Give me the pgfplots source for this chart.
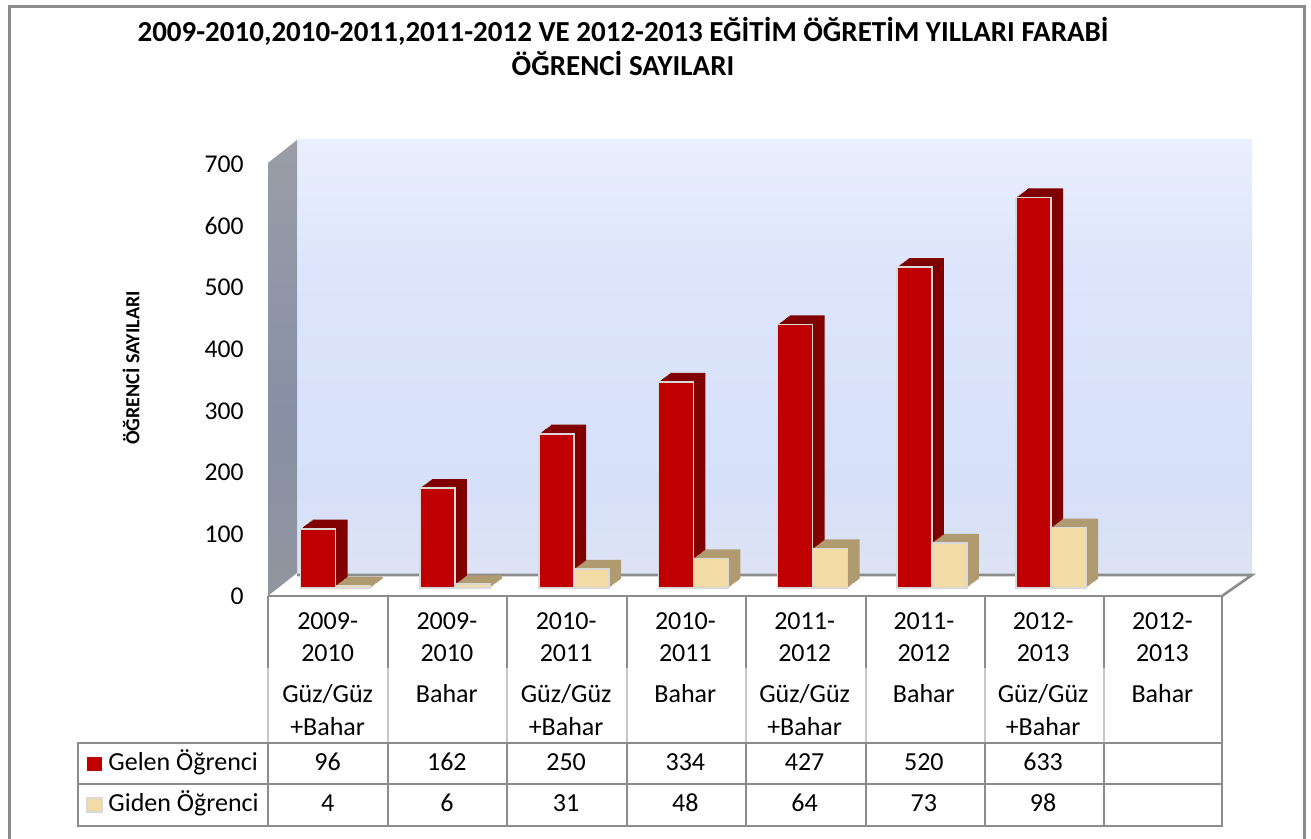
\documentclass[border=0pt]{standalone}
\usepackage{pgfplots}
\usepackage{pgfplotstable}
\pgfplotsset{compat=1.18}
\usepackage{fontspec}
\setmainfont{Carlito}

\definecolor{gelen}{HTML}{C00000}
\definecolor{gelenside}{HTML}{800000}
\definecolor{giden}{HTML}{F3DBA6}
\definecolor{gidenside}{HTML}{B09A70}
\definecolor{tgray}{HTML}{8C8C8C}
\definecolor{tlight}{HTML}{C8C8C8}
\definecolor{bwA}{HTML}{EEEEE6}
\definecolor{bwB}{HTML}{E4E6EE}
\definecolor{bwC}{HTML}{D6E0F9}
\definecolor{bwD}{HTML}{DCE5FB}
\definecolor{lwA}{HTML}{9C9C94}
\definecolor{lwB}{HTML}{8890A6}
\definecolor{lwC}{HTML}{A9A9A9}

\pgfdeclareverticalshading{backwall}{100bp}{color(0bp)=(bwA); color(6bp)=(bwA); color(16bp)=(bwB); color(35bp)=(bwC); color(60bp)=(bwD); color(100bp)=(white)}
\pgfdeclareverticalshading{leftwall}{100bp}{color(0bp)=(lwA); color(45bp)=(lwB); color(100bp)=(lwC)}

\pgfplotstableread{
x gelen giden
0 96 4
1 162 6
2 250 31
3 334 48
4 427 64
5 520 73
6 633 98
}\datatable

\newcommand\tfont{\fontsize{13}{15}\selectfont}

\begin{document}
\begin{tikzpicture}
\begin{scope}[x=0.5pt,y=-0.5pt,yshift=419.5pt]
  \path[use as bounding box] (0,0) rectangle (1311,839);
  \shade[shading=backwall] (297,140) rectangle (1252,575);
  \shade[shading=leftwall] (268,163) -- (297,140) -- (297,573) -- (268,596) -- cycle;
  \fill[white] (268,596) -- (297,575) -- (1252,575) -- (1222,596) -- cycle;
  \draw[tgray, line width=1.3pt] (297,575) -- (1252,575) -- (1222,596);
  \draw[tgray, line width=1.5pt] (9,850) -- (9,7) -- (1304,7) -- (1304,850);
  % titles
  \node[anchor=base, font=\bfseries\fontsize{14.5}{16}\selectfont] at (623,42) {2009-2010,2010-2011,2011-2012 VE 2012-2013 EĞİTİM ÖĞRETİM YILLARI FARABİ};
  \node[anchor=base, font=\bfseries\fontsize{14.5}{16}\selectfont] at (623,76) {ÖĞRENCİ SAYILARI};
  \node[rotate=90, font=\bfseries\fontsize{10}{12}\selectfont] at (131,368) {ÖĞRENCİ SAYILARI};
\end{scope}

\begin{axis}[
  at={(138pt,125.5pt)}, anchor=south west,
  scale only axis, width=477pt, height=216pt,
  xmin=-0.5, xmax=7.5, ymin=0, ymax=700,
  axis line style={draw=none}, tick style={draw=none},
  xtick=\empty, ytick={0,100,...,700},
  /pgf/number format/assume math mode=true,
  yticklabel style={font=\fontsize{12.8}{14}\selectfont, anchor=east, inner sep=0pt, xshift=-16pt, yshift=-4pt},
  clip=false,
]
  % depth (side/top) faces: stacked extrusion, back to front
  \pgfplotsinvokeforeach{1,...,10}{
    \addplot[ybar, bar width=17.5pt, bar shift={-8.75pt+0.6pt*(11-#1)}, yshift={0.45pt*(11-#1)}, fill=gelenside, draw=none] table[x=x, y=gelen] {\datatable};
    \addplot[ybar, bar width=17.5pt, bar shift={8.75pt+0.6pt*(11-#1)}, yshift={0.45pt*(11-#1)}, fill=gidenside, draw=none] table[x=x, y=giden] {\datatable};
  }
  % front faces
  \addplot[ybar, bar width=17.5pt, bar shift=-8.75pt, fill=gelen, draw=black!15, line width=0.8pt] table[x=x, y=gelen] {\datatable};
  \addplot[ybar, bar width=17.5pt, bar shift=8.75pt, fill=giden, draw=black!15, line width=0.8pt] table[x=x, y=giden] {\datatable};
\end{axis}

\begin{scope}[x=0.5pt,y=-0.5pt,yshift=419.5pt]
  % table grid
  \foreach \x in {268,388,507,627,746,866,985,1104} {
    \draw[tgray, line width=1.1pt] (\x,596) -- (\x,668);
    \draw[tlight, line width=1.1pt] (\x,668) -- (\x,743);
    \draw[tgray, line width=1.1pt] (\x,743) -- (\x,826);
  }
  \draw[tgray, line width=1.1pt] (1222,596) -- (1222,826);
  \draw[tgray, line width=1.1pt] (268,596) -- (1222,596);
  \draw[tgray, line width=1.1pt] (78,743) rectangle (1222,826);
  \draw[tgray, line width=1.1pt] (78,784) -- (1222,784);
  % category labels
  \foreach \i/\a/\b in {0/2009-/2010,1/2009-/2010,2/2010-/2011,3/2010-/2011,4/2011-/2012,5/2011-/2012,6/2012-/2013,7/2012-/2013} {
    \node[anchor=base, font=\tfont] at ({268+119.25*(\i+0.5)},630) {\a};
    \node[anchor=base, font=\tfont] at ({268+119.25*(\i+0.5)},662) {\b};
  }
  \foreach \i in {0,2,4,6} {
    \node[anchor=base, font=\tfont] at ({268+119.25*(\i+0.5)},703) {Güz/Güz};
    \node[anchor=base, font=\tfont] at ({268+119.25*(\i+0.5)},736) {+Bahar};
  }
  \foreach \i in {1,3,5,7} {
    \node[anchor=base, font=\tfont] at ({268+119.25*(\i+0.5)},703) {Bahar};
  }
  % values
  \foreach \i/\g/\d in {0/96/4,1/162/6,2/250/31,3/334/48,4/427/64,5/520/73,6/633/98} {
    \node[anchor=base, font=\tfont] at ({268+119.25*(\i+0.5)},771) {\g};
    \node[anchor=base, font=\tfont] at ({268+119.25*(\i+0.5)},812) {\d};
  }
  % legend keys
  \fill[gelen] (87,757) rectangle (102,771);
  \fill[giden, draw=black!15, line width=0.6pt] (87,798) rectangle (102,812);
  \node[anchor=base west, inner sep=0pt, font=\tfont] at (108,771) {Gelen Öğrenci};
  \node[anchor=base west, inner sep=0pt, font=\tfont] at (108,812) {Giden Öğrenci};
\end{scope}
\end{tikzpicture}
\end{document}
